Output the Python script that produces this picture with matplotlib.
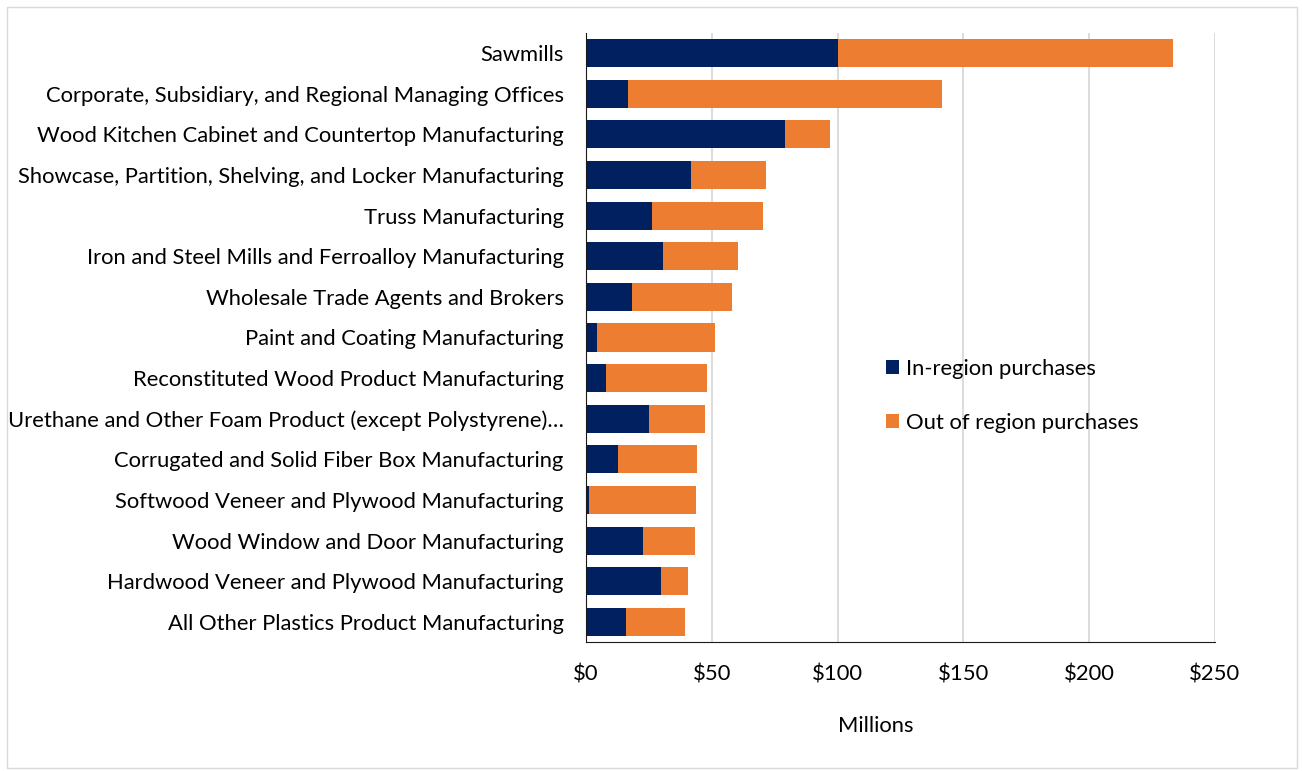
import numpy as np
import matplotlib.pyplot as plt
from matplotlib.patches import Rectangle

plt.rcParams['font.family'] = ['Lato', 'DejaVu Sans']

industries = [
    "Sawmills",
    "Corporate, Subsidiary, and Regional Managing Offices",
    "Wood Kitchen Cabinet and Countertop Manufacturing",
    "Showcase, Partition, Shelving, and Locker Manufacturing",
    "Truss Manufacturing",
    "Iron and Steel Mills and Ferroalloy Manufacturing",
    "Wholesale Trade Agents and Brokers",
    "Paint and Coating Manufacturing",
    "Reconstituted Wood Product Manufacturing",
    "Urethane and Other Foam Product (except Polystyrene)\u2026",
    "Corrugated and Solid Fiber Box Manufacturing",
    "Softwood Veneer and Plywood Manufacturing",
    "Wood Window and Door Manufacturing",
    "Hardwood Veneer and Plywood Manufacturing",
    "All Other Plastics Product Manufacturing",
]
in_region = [100.3, 16.5, 79.0, 41.9, 26.2, 30.6, 18.2, 4.2, 7.9, 25.0, 12.6, 1.3, 22.6, 29.7, 15.7]
total = [233.4, 141.5, 97.0, 71.6, 70.2, 60.4, 58.2, 51.3, 47.9, 47.3, 44.3, 43.8, 43.3, 40.7, 39.4]
out_region = [t - i for t, i in zip(total, in_region)]
xticks = [0, 50, 100, 150, 200, 250]

navy = '#002060'
orange = '#ED7D31'
fs = 15.8

fig = plt.figure(figsize=(13.02, 7.71), dpi=100)
ax = fig.add_axes([586/1302, 1 - 642.3/771, (1215-586)/1302, (642.3-32.7)/771])

y = np.arange(len(industries))
ax.barh(y, in_region, height=0.69, color=navy, label='In-region purchases', zorder=3)
ax.barh(y, out_region, left=in_region, height=0.69, color=orange,
        label='Out of region purchases', zorder=3)

ax.set_ylim(len(industries) - 0.5, -0.5)
ax.set_xlim(0, 250)
ax.set_yticks(y)
ax.set_yticklabels(industries, fontsize=fs)
ax.set_xticks(xticks)
ax.set_xticklabels(['$%d' % v for v in xticks], fontsize=fs)
ax.tick_params(axis='y', length=0, pad=16)
ax.tick_params(axis='x', length=0, pad=16)
ax.grid(axis='x', color='#d9d9d9', linewidth=1.3, zorder=0)
for s in ['top', 'right']:
    ax.spines[s].set_visible(False)
ax.spines['left'].set_color('#1a1a1a')
ax.spines['bottom'].set_color('#1a1a1a')
ax.spines['left'].set_zorder(4)

fig.text(876/1302, 1 - 726/771, 'Millions', ha='center', va='center', fontsize=fs)

fig.legend(loc='upper left', bbox_to_anchor=(886/1302, 1 - 359/771), frameon=False,
           fontsize=fs, handlelength=0.6, handleheight=0.6, handletextpad=0.3,
           labelspacing=1.55, borderpad=0, borderaxespad=0)

fig.patches.append(Rectangle((7/1302, 3/771), 1290/1302, 761/771, transform=fig.transFigure,
                             fill=False, edgecolor='#d9d9d9', linewidth=1))

fig.savefig('out.png', dpi=100)
